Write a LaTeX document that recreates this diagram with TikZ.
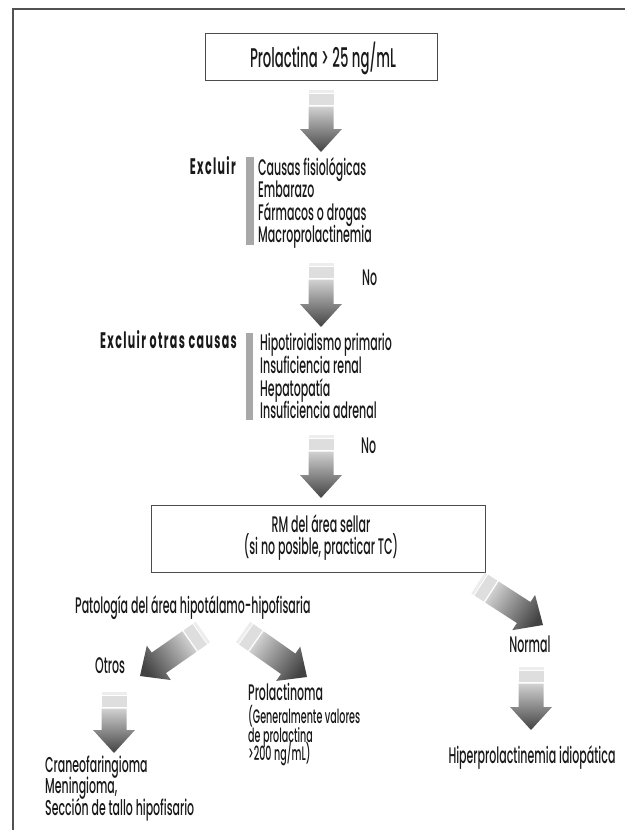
\documentclass[tikz,border=0pt]{standalone}
\usepackage{fontspec}
\setmainfont{Poppins}[FakeStretch=0.49, UprightFont=* Medium, BoldFont=* Bold]
\usetikzlibrary{calc}

\definecolor{ink}{gray}{0.1}
\definecolor{framegray}{gray}{0.32}
\definecolor{bargray}{gray}{0.66}

\tikzset{
  txt/.style={inner sep=0pt, text=ink, font=\fontsize{22.5}{24}\selectfont},
  bigtxt/.style={txt, font=\fontsize{27}{29}\selectfont},
  midtxt/.style={txt, font=\fontsize{22.5}{24}\selectfont},
  listtxt/.style={txt, font=\addfontfeature{FakeStretch=0.51}\fontsize{21.5}{23}\selectfont},
  smalltxt/.style={txt, font=\fontsize{19.5}{21}\selectfont},
  headtxt/.style={txt, font=\fontsize{22.5}{24}\selectfont\bfseries\addfontfeature{LetterSpace=6}},
  framebox/.style={draw=black!70, line width=0.9pt, fill=white},
  sidebar/.style={fill=bargray},
  tailstrip/.style={fill=black!7},
  tailband/.style={fill=black!13},
}

% Shaded block arrow from tail coordinate #2 to tip coordinate #3;
% #1 rotates the light-to-dark gradient to follow the arrow.
\newcommand\grarrow[3]{%
  \coordinate (#2-d) at ($(#2)!3pt!(#3)$);
  \coordinate (#2-e) at ($(#2)!4pt!(#3)$);
  \coordinate (#2-f) at ($(#2)!15pt!(#3)$);
  \coordinate (#2-g) at ($(#2)!16.5pt!(#3)$);
  \coordinate (#2-h) at ($(#3)!23pt!(#2)$);
  \fill[tailstrip] ($(#2)!12.5pt!90:(#3)$) -- ($(#2)!12.5pt!-90:(#3)$)
    -- ($(#2-d)!12.5pt!-90:(#3)$) -- ($(#2-d)!12.5pt!90:(#3)$) -- cycle;
  \fill[tailband] ($(#2-e)!12.5pt!90:(#3)$) -- ($(#2-e)!12.5pt!-90:(#3)$)
    -- ($(#2-f)!12.5pt!-90:(#3)$) -- ($(#2-f)!12.5pt!90:(#3)$) -- cycle;
  \shade[top color=black!18, bottom color=black!74, shading angle=#1]
    ($(#2-g)!12.5pt!90:(#3)$) -- ($(#2-h)!12.5pt!90:(#3)$)
    -- ($(#2-h)!21pt!90:(#3)$) -- (#3) -- ($(#2-h)!21pt!-90:(#3)$)
    -- ($(#2-h)!12.5pt!-90:(#3)$) -- ($(#2-g)!12.5pt!-90:(#3)$) -- cycle;
}

\begin{document}
\begin{tikzpicture}[x=1pt, y=-1pt]
\useasboundingbox (0,0) rectangle (624,830);

% outer frame, open to the right and bottom
\draw[framegray, line width=2pt] (640,9) -- (13,9) -- (13,850);

% start
\node[framebox, minimum width=232pt, minimum height=47pt, inner sep=0pt] (prl) at (321,56.5) {};
\node[bigtxt, anchor=base] (prltxt) at (323,67) {Prolactina > 25 ng/mL};

% first exclusion step
\coordinate (a1) at (321,90);
\coordinate (a1t) at (321,152);
\grarrow{0}{a1}{a1t}

\node[headtxt, anchor=base east] (exc1) at (236,174) {Excluir};
\fill[sidebar] (246,157) rectangle (254,245);
\node[txt, anchor=base west] (c1) at (258,175) {Causas fisiológicas};
\node[txt, anchor=base west] (c2) at (258,197.5) {Embarazo};
\node[txt, anchor=base west] (c3) at (258,220) {Fármacos o drogas};
\node[txt, anchor=base west] (c4) at (258,242.5) {Macroprolactinemia};

% second exclusion step
\coordinate (a2) at (321,263);
\coordinate (a2t) at (321,327);
\grarrow{0}{a2}{a2t}
\node[txt, anchor=base west] (no1) at (362,285) {No};

\node[headtxt, anchor=base east] (exc2) at (237,348) {Excluir otras causas};
\fill[sidebar] (246,333) rectangle (253,420);
\node[txt, anchor=base west] (o1) at (260,350) {Hipotiroidismo primario};
\node[txt, anchor=base west] (o2) at (260,373) {Insuficiencia renal};
\node[txt, anchor=base west] (o3) at (260,396) {Hepatopatía};
\node[txt, anchor=base west] (o4) at (260,418) {Insuficiencia adrenal};

% imaging
\coordinate (a3) at (321,435);
\coordinate (a3t) at (321,498);
\grarrow{0}{a3}{a3t}
\node[txt, anchor=base west] (no2) at (361,453) {No};

\node[framebox, minimum width=334pt, minimum height=67pt, inner sep=0pt] (rm) at (318,538.5) {};
\node[midtxt, anchor=base] (rm1) at (321,532) {RM del área sellar};
\node[midtxt, anchor=base] (rm2) at (321,554) {(si no posible, practicar TC)};

% pathology branch
\node[txt, anchor=base west] (pat) at (75,613) {Patología del área hipotálamo-hipofisaria};

\coordinate (dl) at (203,632);
\coordinate (dlt) at (140,676);
\grarrow{-56}{dl}{dlt}
\coordinate (dr) at (243,632);
\coordinate (drt) at (307,677);
\grarrow{55}{dr}{drt}

\node[txt, anchor=base west] (otros) at (95,673) {Otros};
\coordinate (a4) at (114,692);
\coordinate (a4t) at (114,753);
\grarrow{0}{a4}{a4t}
\node[listtxt, anchor=base west] (cr1) at (45,772) {Craneofaringioma};
\node[listtxt, anchor=base west] (cr2) at (45,793) {Meningioma,};
\node[listtxt, anchor=base west] (cr3) at (45,815.5) {Sección de tallo hipofisario};

\node[txt, anchor=base west] (pr1) at (248,700) {Prolactinoma};
\node[smalltxt, anchor=base west] (pr2) at (248,723) {(Generalmente valores};
\node[smalltxt, anchor=base west] (pr3) at (248,742) {de prolactina};
\node[smalltxt, anchor=base west] (pr4) at (248,760) {>200 ng/mL)};

% normal branch
\coordinate (dn) at (478,583);
\coordinate (dnt) at (543,625);
\grarrow{57}{dn}{dnt}
\node[txt, anchor=base] (norm) at (530,652) {Normal};
\coordinate (a5) at (531,667);
\coordinate (a5t) at (531,730);
\grarrow{0}{a5}{a5t}
\node[txt, anchor=base] (idio) at (532,763) {Hiperprolactinemia idiopática};
\end{tikzpicture}
\end{document}
